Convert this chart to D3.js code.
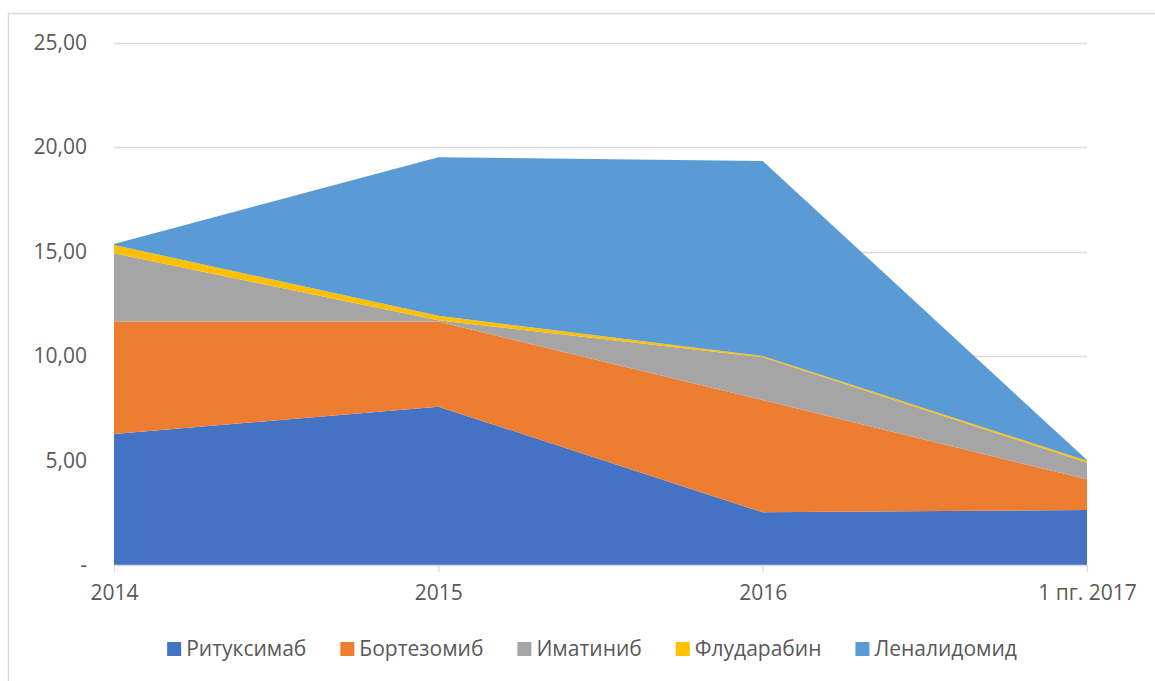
<!DOCTYPE html>
<html><head><meta charset="utf-8">
<script src="https://cdn.jsdelivr.net/npm/d3@7"></script>
<style>body{margin:0;background:#fff;}svg{display:block;font-family:"Open Sans",sans-serif;}</style>
</head><body>
<svg id="chart" width="1155" height="681"></svg>
<script>
const categories = ["2014", "2015", "2016", "1 пг. 2017"];
const seriesNames = ["Ритуксимаб", "Бортезомиб", "Иматиниб", "Флударабин", "Леналидомид"];
const rituximab    = [6.27, 7.58, 2.52, 2.63];
const bortezomib   = [5.38, 4.07, 5.38, 1.47];
const imatinib     = [3.27, 0.06, 2.04, 0.80];
const fludarabine  = [0.40, 0.22, 0.06, 0.09];
const lenalidomide = [0.04, 7.59, 9.34, 0.03];
const yTicks = [0, 5, 10, 15, 20, 25];
const colors = ["#4472C4", "#ED7D31", "#A5A5A5", "#FFC000", "#5B9BD5"];

const seriesValues = [rituximab, bortezomib, imatinib, fludarabine, lenalidomide];
const rows = categories.map((c, i) => {
  const r = {cat: c};
  seriesNames.forEach((n, j) => r[n] = seriesValues[j][i]);
  return r;
});

const svg = d3.select("#chart");
const mLeft = 114, mRight = 1087, mTop = 42.7, mBottom = 565;
const fs = 21;

svg.append("rect").attr("x", 8.5).attr("y", 13.5).attr("width", 1200).attr("height", 700)
  .attr("fill", "none").attr("stroke", "#d9d9d9").attr("stroke-width", 1.5);

const x = d3.scalePoint().domain(categories).range([mLeft, mRight]);
const y = d3.scaleLinear().domain([0, 25]).range([mBottom, mTop]);

// gridlines
svg.append("g").selectAll("line").data(yTicks.filter(t => t > 0)).join("line")
  .attr("x1", mLeft).attr("x2", mRight)
  .attr("y1", d => Math.round(y(d)) + 0.5).attr("y2", d => Math.round(y(d)) + 0.5)
  .attr("stroke", "#d9d9d9").attr("stroke-width", 1.3);

const stack = d3.stack().keys(seriesNames);
const layers = stack(rows);
const area = d3.area().x(d => x(d.data.cat)).y0(d => y(d[0])).y1(d => y(d[1]));
svg.append("g").selectAll("path").data(layers).join("path")
  .attr("d", area).attr("fill", (d, i) => colors[i]);

// y axis labels
const fmt = v => v === 0 ? "-" : d3.format(".2f")(v).replace(".", ",");
const yAxis = d3.axisLeft(y).tickValues(yTicks).tickSize(0).tickPadding(27).tickFormat(fmt);
const ga = svg.append("g").attr("transform", `translate(${mLeft},0)`).call(yAxis);
ga.select(".domain").remove();
ga.selectAll("text").attr("font-size", fs).attr("fill", "#595959").attr("font-family", "Open Sans");

// x axis
const xAxis = d3.axisBottom(x).tickSize(7).tickPadding(13).tickSizeOuter(0);
const gx = svg.append("g").attr("transform", `translate(0,${mBottom})`).call(xAxis);
gx.select(".domain").attr("stroke", "#d9d9d9").attr("stroke-width", 1.3);
gx.selectAll(".tick line").attr("stroke", "#d9d9d9").attr("stroke-width", 1.3);
gx.selectAll("text").attr("font-size", fs).attr("fill", "#595959").attr("font-family", "Open Sans");

// legend
const lg = svg.append("g");
const items = lg.selectAll("g").data(seriesNames).join("g");
items.append("rect").attr("width", 14).attr("height", 14).attr("y", -7).attr("fill", (d, i) => colors[i]);
items.append("text").attr("x", 19).attr("dy", "0.35em").attr("font-size", fs).attr("fill", "#595959").text(d => d);
let pos = 0;
const gap = 34;
items.each(function() {
  const w = this.getBBox().width;
  d3.select(this).attr("transform", `translate(${pos},0)`);
  pos += w + gap;
});
const total = pos - gap;
lg.attr("transform", `translate(${592 - total / 2},649)`);
</script>
</body></html>
